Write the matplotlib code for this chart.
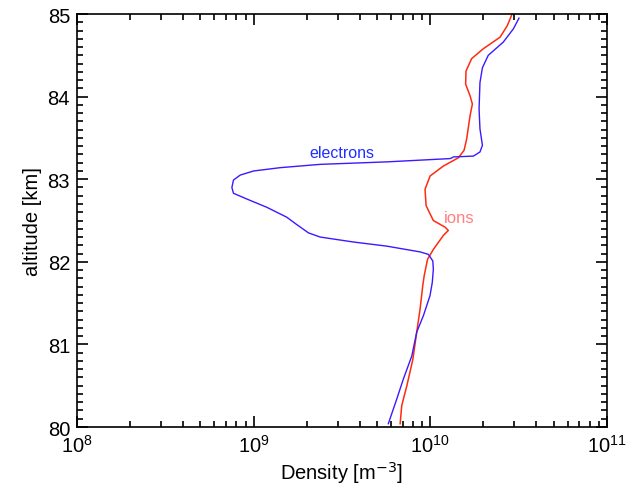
import numpy as np
import matplotlib.pyplot as plt
from matplotlib.ticker import MultipleLocator, LogLocator, NullFormatter

plt.rcParams['font.family'] = ['Liberation Sans', 'DejaVu Sans']

# electron density profile (log10 of m^-3) vs altitude (km)
alt_e = [84.95, 84.82, 84.66, 84.50, 84.35, 84.17, 83.85, 83.61, 83.41, 83.33,
         83.28, 83.27, 83.25, 83.21, 83.18, 83.14, 83.10, 83.05, 82.99, 82.90,
         82.83, 82.76, 82.66, 82.54, 82.45, 82.35, 82.30, 82.24, 82.19, 82.12,
         82.09, 82.01, 81.91, 81.75, 81.59, 81.35, 81.15, 80.86, 80.58, 80.34,
         80.04]
log_ne = [10.503, 10.471, 10.414, 10.329, 10.296, 10.282, 10.277, 10.282, 10.296, 10.282,
          10.245, 10.132, 10.114, 9.754, 9.377, 9.151, 9.0, 8.924, 8.886, 8.877,
          8.886, 8.962, 9.075, 9.188, 9.245, 9.311, 9.377, 9.565, 9.754, 9.943,
          9.990, 10.015, 10.018, 10.012, 9.999, 9.962, 9.924, 9.896, 9.848, 9.811,
          9.763]

# ion density profile
alt_i = [84.99, 84.86, 84.72, 84.58, 84.46, 84.31, 84.15, 84.01, 83.91, 83.77,
         83.49, 83.35, 83.26, 83.16, 83.04, 82.88, 82.68, 82.50, 82.42, 82.38,
         82.32, 82.15, 82.03, 81.83, 81.71, 81.43, 81.15, 80.82, 80.50, 80.26,
         80.04]
log_ni = [10.462, 10.437, 10.396, 10.301, 10.235, 10.203, 10.201, 10.226, 10.239, 10.226,
          10.207, 10.192, 10.16, 10.075, 10.0, 9.971, 9.977, 10.018, 10.084, 10.103,
          10.075, 10.018, 9.985, 9.966, 9.958, 9.943, 9.924, 9.902, 9.868, 9.839,
          9.83]

ne = 10.0 ** np.array(log_ne)
ni = 10.0 ** np.array(log_ni)

fig = plt.figure(figsize=(6.33, 4.85), dpi=100)
ax = fig.add_axes([0.1217, 0.1175, 0.8368, 0.8515])

ax.plot(ni, alt_i, color='#ff2a10', lw=1.1)
ax.plot(ne, alt_e, color='#3a1aff', lw=1.0)

ax.text(10 ** 9.5, 83.32, 'electrons', color='#2030ff', fontsize=11.5, ha='center', va='center')
ax.text(10 ** 10.165, 82.54, 'ions', color='#ff8080', fontsize=12, ha='center', va='center')

ax.set_xscale('log')
ax.set_xlim(1e8, 1e11)
ax.set_ylim(80, 85)
ax.yaxis.set_major_locator(MultipleLocator(1))
ax.yaxis.set_minor_locator(MultipleLocator(0.1))
ax.xaxis.set_minor_locator(LogLocator(base=10, subs=np.arange(2, 10)))
ax.xaxis.set_minor_formatter(NullFormatter())

ax.tick_params(which='both', direction='in', top=True, right=True, width=1.2, labelsize=14.5)
ax.tick_params(which='major', length=8, pad=5)
ax.tick_params(which='minor', length=4)
for s in ax.spines.values():
    s.set_linewidth(1.2)

ax.set_xlabel('Density [m$^{-3}$]', fontsize=14.5, labelpad=2)
ax.set_ylabel('altitude [km]', fontsize=14.5)

fig.savefig('out.png', dpi=100)
